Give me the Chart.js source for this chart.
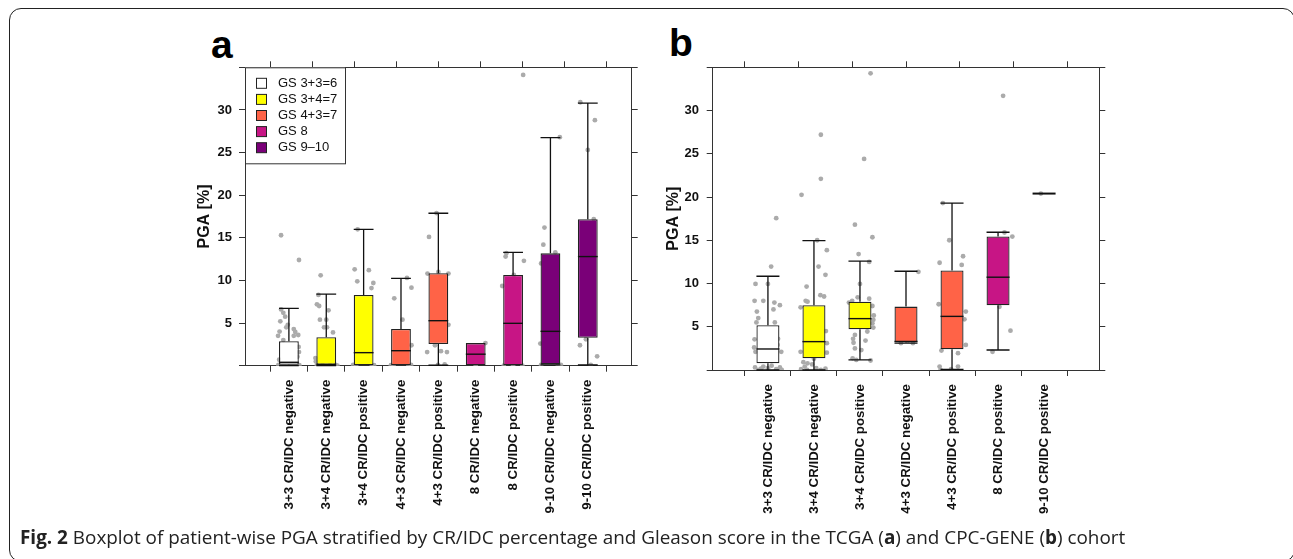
<!DOCTYPE html>
<html>
<head>
<meta charset="utf-8">
<title>PGA by CR/IDC and Gleason score</title>
<script src="https://cdn.jsdelivr.net/npm/chart.js@4.4.1/dist/chart.umd.min.js"></script>
<style>
  body { margin: 0; background: #fff; width: 1293px; height: 559px; overflow: hidden; position: relative; }
  .frame { position: absolute; left: 9px; top: 8px; width: 1286px; height: 554px; border: 1.5px solid #222; border-radius: 12px; box-sizing: border-box; }
  .letter { position: absolute; font-family: 'Liberation Sans', Arial, sans-serif; font-weight: bold; font-size: 39px; line-height: 1; color: #000; }
  .chart-box { position: absolute; top: 60px; width: 500px; height: 470px; }
  .caption { position: absolute; left: 20px; top: 528px; font-family: 'Open Sans', sans-serif; font-size: 18.9px; line-height: 1; color: #222; white-space: nowrap; }
</style>
</head>
<body>
<div class="frame"></div>
<div class="letter" style="left:211px; top:25px;">a</div>
<div class="letter" style="left:669px; top:23px;">b</div>
<div class="chart-box" style="left:150px;"><canvas id="chart_a"></canvas></div>
<div class="chart-box" style="left:620px;"><canvas id="chart_b"></canvas></div>
<div class="caption"><b>Fig. 2</b> Boxplot of patient-wise PGA stratified by CR/IDC percentage and Gleason score in the TCGA (<b>a</b>) and CPC-GENE (<b>b</b>) cohort</div>

<script>
// legend groups
const gsNames = ['GS 3+3=6', 'GS 3+4=7', 'GS 4+3=7', 'GS 8', 'GS 9\u201310'];
const gsColors = ['#ffffff', '#ffff00', '#ff6347', '#c71585', '#7a0078'];

// ---- panel a (TCGA) ----
const labelsA = ['3+3 CR/IDC negative', '3+4 CR/IDC negative', '3+4 CR/IDC positive',
  '4+3 CR/IDC negative', '4+3 CR/IDC positive', '8 CR/IDC negative', '8 CR/IDC positive',
  '9-10 CR/IDC negative', '9-10 CR/IDC positive'];
const groupA = [0, 1, 1, 2, 2, 3, 3, 4, 4];
const lowA = [0, 0, 0, 0, 0.05, 0, 0, 0.1, 0.08];
const q1A = [0.1, 0.1, 0, 0, 2.54, 0, 0, 0.15, 3.27];
const medA = [0.4, 0.15, 1.53, 1.76, 5.28, 1.35, 4.97, 4.03, 12.8];
const q3A = [2.86, 3.35, 8.3, 4.3, 10.84, 2.65, 10.64, 13.18, 17.18];
const highA = [6.73, 8.4, 16.0, 10.25, 17.88, 2.65, 13.3, 26.76, 30.8];
// [jitter, PGA] per group
const dotsA = [
  [[-0.21, 15.3], [0.27, 12.4], [-0.21, 6.6], [-0.15, 6.2], [-0.1, 5.75], [-0.23, 5.2], [-0.03, 4.8], [-0.07, 4.5],
   [-0.25, 4.0], [0.13, 4.3], [0.17, 3.95], [0.25, 3.6], [-0.29, 3.5], [0.13, 3.5], [-0.15, 3.0], [0.26, 2.2],
   [0.27, 1.6], [0.23, 1.05], [-0.26, 0.7], [-0.28, 0.1], [-0.2, 0.2], [-0.12, 0.05], [0.0, 0.1], [0.1, 0.3],
   [0.2, 0.15], [0.28, 0.05], [-0.05, 0.4]],
  [[-0.15, 10.6], [-0.21, 8.3], [-0.25, 7.2], [-0.19, 7.0], [0.06, 6.5], [-0.17, 5.4], [0.0, 5.4], [-0.06, 4.5],
   [0.02, 4.5], [0.18, 3.9], [-0.29, 0.9], [-0.28, 0.5], [-0.25, 0.05], [-0.1, 0.1], [0.1, 0.05], [0.25, 0.1], [0.3, 0.0]],
  [[-0.16, 16.0], [-0.24, 11.3], [0.14, 11.2], [-0.17, 9.9], [0.26, 9.7], [0.21, 9.1], [-0.28, 0.1], [0.28, 0.05],
   [-0.2, 0.0], [0.22, 0.0]],
  [[0.16, 10.3], [0.28, 9.15], [-0.18, 7.9], [0.04, 5.4], [0.28, 2.4], [-0.27, 0.05], [0.27, 0.1], [-0.2, 0.0], [0.2, 0.0]],
  [[-0.05, 17.9], [-0.25, 15.1], [-0.29, 10.8], [0.0, 11.0], [0.27, 10.8], [0.27, 4.8], [-0.09, 2.4], [-0.3, 1.6],
   [0.07, 1.7], [0.23, 1.6], [0.17, 0.15], [-0.01, 0.1]],
  [[0.26, 2.65], [0.0, 0.0]],
  [[0.27, 34.1], [0.29, 12.3], [-0.18, 13.2], [-0.2, 12.8], [-0.29, 9.35], [0.02, 10.65], [-0.25, 0.0], [0.0, 0.05], [0.25, 0.0]],
  [[0.25, 26.8], [-0.16, 16.2], [-0.19, 14.2], [-0.25, 12.0], [0.13, 13.3], [-0.27, 2.6], [-0.25, 0.1], [0.2, 0.05], [0.28, 0.1]],
  [[-0.2, 30.9], [0.19, 28.8], [0.0, 25.3], [-0.21, 2.4], [-0.05, 3.1], [0.25, 1.1], [0.16, 17.2], [0.08, 0.1]]
];

// ---- panel b (CPC-GENE) ----
const labelsB = ['3+3 CR/IDC negative', '3+4 CR/IDC negative', '3+4 CR/IDC positive',
  '4+3 CR/IDC negative', '4+3 CR/IDC positive', '8 CR/IDC positive', '9-10 CR/IDC positive'];
const groupB = [0, 1, 1, 2, 2, 3, 4];
const lowB = [0, 0, 1.16, 3.1, 0.08, 2.31, 20.4];
const q1B = [0.77, 1.35, 4.7, 3.2, 2.4, 7.48, 20.4];
const medB = [2.43, 3.28, 5.94, 3.3, 6.2, 10.73, 20.4];
const q3B = [5.17, 7.48, 7.9, 7.33, 11.5, 15.43, 20.4];
const highB = [10.84, 14.97, 12.58, 11.42, 19.3, 15.93, 20.4];
const dotsB = [
  [[0.18, 17.55], [0.07, 11.96], [-0.27, 9.95], [0.0, 9.95], [-0.29, 8.0], [-0.1, 8.0], [0.14, 7.8], [0.26, 7.5],
   [0.12, 7.0], [-0.24, 6.75], [-0.21, 6.0], [-0.25, 5.5], [0.15, 5.5], [-0.29, 3.55], [-0.3, 2.6], [0.21, 2.9],
   [0.29, 2.1], [-0.27, 2.1], [0.22, 3.6], [-0.28, 0.3], [-0.2, 0.0], [-0.1, 0.4], [0.0, 0.2], [0.08, 0.5],
   [0.18, 0.1], [0.26, 0.3], [0.3, 0.0], [-0.15, 0.15]],
  [[0.15, 27.2], [0.15, 22.1], [-0.27, 20.25], [0.07, 15.0], [0.28, 13.85], [0.1, 11.96], [0.25, 11.0], [-0.16, 9.65],
   [0.14, 8.65], [0.22, 8.5], [-0.18, 8.0], [-0.14, 7.9], [-0.29, 7.25], [0.26, 4.5], [0.28, 3.1], [0.28, 2.0],
   [-0.29, 2.1], [-0.23, 0.9], [-0.14, 0.77], [-0.04, 0.65], [-0.28, 0.1], [-0.15, 0.0], [0.05, 0.2], [0.15, 0.0],
   [0.25, 0.15], [-0.2, 0.4], [0.0, 1.3]],
  [[0.23, 34.3], [0.09, 24.4], [-0.11, 16.8], [0.27, 15.35], [-0.03, 13.4], [0.2, 12.5], [0.0, 9.95], [-0.05, 8.4],
   [0.2, 8.25], [-0.24, 7.8], [-0.17, 8.0], [0.27, 7.4], [0.29, 5.8], [0.27, 5.4], [0.29, 4.9], [0.16, 4.45],
   [-0.11, 4.05], [-0.14, 3.15], [0.12, 3.4], [-0.11, 2.5], [0.03, 2.3], [-0.16, 1.35], [-0.08, 1.16], [0.23, 1.1],
   [-0.15, 3.6], [0.3, 6.3]],
  [[0.27, 11.35], [-0.11, 3.1], [0.15, 3.1], [0.05, 3.4]],
  [[-0.2, 19.3], [-0.06, 15.0], [0.24, 13.15], [-0.27, 12.4], [0.21, 12.15], [-0.29, 7.6], [0.3, 6.75], [0.27, 5.86],
   [0.3, 2.9], [-0.23, 2.25], [0.13, 1.95], [0.13, 0.4], [-0.27, 0.4], [-0.25, 0.0], [-0.02, 0.1]],
  [[0.11, 31.7], [0.14, 15.9], [0.31, 15.43], [0.03, 7.3], [0.27, 4.55], [-0.12, 2.1]],
  [[-0.07, 20.4]]
];

const yTicks = [0, 5, 10, 15, 20, 25, 30, 35];
const FONT = "'Liberation Sans', Arial, Helvetica, sans-serif";
const INK = '#111';
const AXIS = '#333';

// whiskers, medians and the inset legend, all placed through the chart scales
const boxExtras = {
  id: 'boxExtras',
  afterDatasetsDraw(chart, args, opts) {
    const ctx = chart.ctx;
    const xs = chart.scales.x, ys = chart.scales.y;
    const bars = chart.getDatasetMeta(1).data;
    ctx.save();
    ctx.strokeStyle = INK;
    ctx.lineWidth = 1.3;
    opts.med.forEach((m, i) => {
      const cx = xs.getPixelForValue(i + 1);
      const half = bars[i].width / 2;
      const yq1 = ys.getPixelForValue(opts.q1[i]);
      const yq3 = ys.getPixelForValue(opts.q3[i]);
      const ylo = ys.getPixelForValue(opts.low[i]);
      const yhi = ys.getPixelForValue(opts.high[i]);
      ctx.beginPath();
      if (opts.high[i] > opts.q3[i]) {
        ctx.moveTo(cx, yq3); ctx.lineTo(cx, yhi);
        ctx.moveTo(cx - half, yhi); ctx.lineTo(cx + half, yhi);
      }
      if (opts.low[i] < opts.q1[i]) {
        ctx.moveTo(cx, yq1); ctx.lineTo(cx, ylo);
        ctx.moveTo(cx - half, ylo); ctx.lineTo(cx + half, ylo);
      }
      ctx.stroke();
      ctx.beginPath();
      ctx.lineWidth = opts.q1[i] === opts.q3[i] ? 2 : 1.4;
      const ym = ys.getPixelForValue(m);
      ctx.moveTo(cx - half, ym); ctx.lineTo(cx + half, ym);
      ctx.stroke();
      ctx.lineWidth = 1.3;
    });

    if (opts.legend) {
      const a = chart.chartArea;
      ctx.fillStyle = '#fff';
      ctx.fillRect(a.left, a.top, 100, 96);
      ctx.strokeStyle = AXIS;
      ctx.lineWidth = 1;
      ctx.strokeRect(a.left + 0.5, a.top + 0.5, 100, 96);
      ctx.font = '13px ' + FONT;
      ctx.textBaseline = 'middle';
      gsNames.forEach((name, k) => {
        const cy = a.top + 16 + k * 16.1;
        ctx.fillStyle = gsColors[k];
        ctx.fillRect(a.left + 11.5, cy - 5, 10, 10);
        ctx.strokeStyle = '#222';
        ctx.strokeRect(a.left + 11.5, cy - 5, 10, 10);
        ctx.fillStyle = INK;
        ctx.fillText(name, a.left + 33, cy);
      });
    }
    ctx.restore();
  }
};

// fix a scale's thickness and drop the label overhang padding
function fixSize(prop, size) {
  return s => {
    s[prop] = size;
    s.paddingTop = 0; s.paddingBottom = 0; s.paddingLeft = 0; s.paddingRight = 0;
  };
}

function makeChart(id, labels, groups, low, q1, med, q3, high, dots, geo) {
  const n = labels.length;
  const boxes = labels.map((_, i) => ({x: i + 1, y: [q1[i], q3[i]]}));
  const points = [];
  dots.forEach((grp, i) => grp.forEach(d => points.push({x: i + 1 + d[0], y: d[1]})));
  const catTicks = s => { s.ticks = labels.map((_, i) => ({value: i + 1})); };
  const xRange = {type: 'linear', min: 0.4, max: n + 0.6};
  const tickGrid = {drawOnChartArea: false, drawTicks: true, tickLength: 6, color: AXIS, lineWidth: 1};

  return new Chart(document.getElementById(id), {
    data: {
      datasets: [
        {
          type: 'scatter',
          data: points,
          order: 2,
          pointRadius: 2.4,
          pointHoverRadius: 2.4,
          pointBackgroundColor: '#ababab',
          pointBorderWidth: 0
        },
        {
          type: 'bar',
          data: boxes,
          order: 1,
          backgroundColor: groups.map(g => gsColors[g]),
          borderColor: '#222',
          borderWidth: 1.3,
          borderSkipped: false,
          categoryPercentage: 1,
          barPercentage: geo.barPct
        }
      ]
    },
    options: {
      responsive: true,
      maintainAspectRatio: false,
      animation: false,
      events: [],
      layout: {padding: {left: 0, right: 0, top: 0, bottom: geo.padBottom}},
      scales: {
        x: Object.assign({}, xRange, {
          position: 'bottom',
          afterBuildTicks: catTicks,
          ticks: {
            autoSkip: false, minRotation: 90, maxRotation: 90, padding: geo.xPad, color: INK,
            font: {family: FONT, size: 13.3, weight: 'bold'},
            callback: v => labels[Math.round(v) - 1]
          },
          grid: tickGrid,
          border: {color: AXIS, width: 1},
          afterFit: fixSize('height', 160)
        }),
        x2: Object.assign({}, xRange, {
          position: 'top',
          afterBuildTicks: catTicks,
          ticks: {display: false},
          grid: tickGrid,
          border: {color: AXIS, width: 1},
          afterFit: fixSize('height', 7.3)
        }),
        y: {
          position: 'left',
          min: 0, max: 35,
          afterBuildTicks: s => { s.ticks = yTicks.map(v => ({value: v})); },
          ticks: {
            padding: geo.yPad, color: INK,
            font: {family: FONT, size: 13, weight: 'bold'},
            callback: v => (v > 0 && v < 35) ? String(v) : ''
          },
          grid: tickGrid,
          border: {color: AXIS, width: 1},
          title: {
            display: true, text: 'PGA [%]', color: INK,
            font: {family: FONT, size: 16, weight: 'bold'},
            padding: {top: geo.titlePad, bottom: 0}
          },
          afterFit: fixSize('width', geo.yWidth)
        },
        y2: {
          position: 'right',
          min: 0, max: 35,
          afterBuildTicks: s => { s.ticks = yTicks.map(v => ({value: v})); },
          ticks: {display: false},
          grid: tickGrid,
          border: {color: AXIS, width: 1},
          afterFit: fixSize('width', geo.rightWidth)
        }
      },
      plugins: {
        legend: {display: false},
        tooltip: {enabled: false},
        boxExtras: {low: low, q1: q1, med: med, q3: q3, high: high, legend: geo.legend}
      }
    },
    plugins: [boxExtras]
  });
}

makeChart('chart_a', labelsA, groupA, lowA, q1A, medA, q3A, highA, dotsA,
  {barPct: 0.53, padBottom: 4.3, yWidth: 95, rightWidth: 18.3, yPad: 7, xPad: 8, titlePad: 45.4, legend: true});
makeChart('chart_b', labelsB, groupB, lowB, q1B, medB, q3B, highB, dotsB,
  {barPct: 0.5, padBottom: 0, yWidth: 92.7, rightWidth: 20.7, yPad: 7.7, xPad: 8, titlePad: 43.7, legend: false});
</script>
</body>
</html>
